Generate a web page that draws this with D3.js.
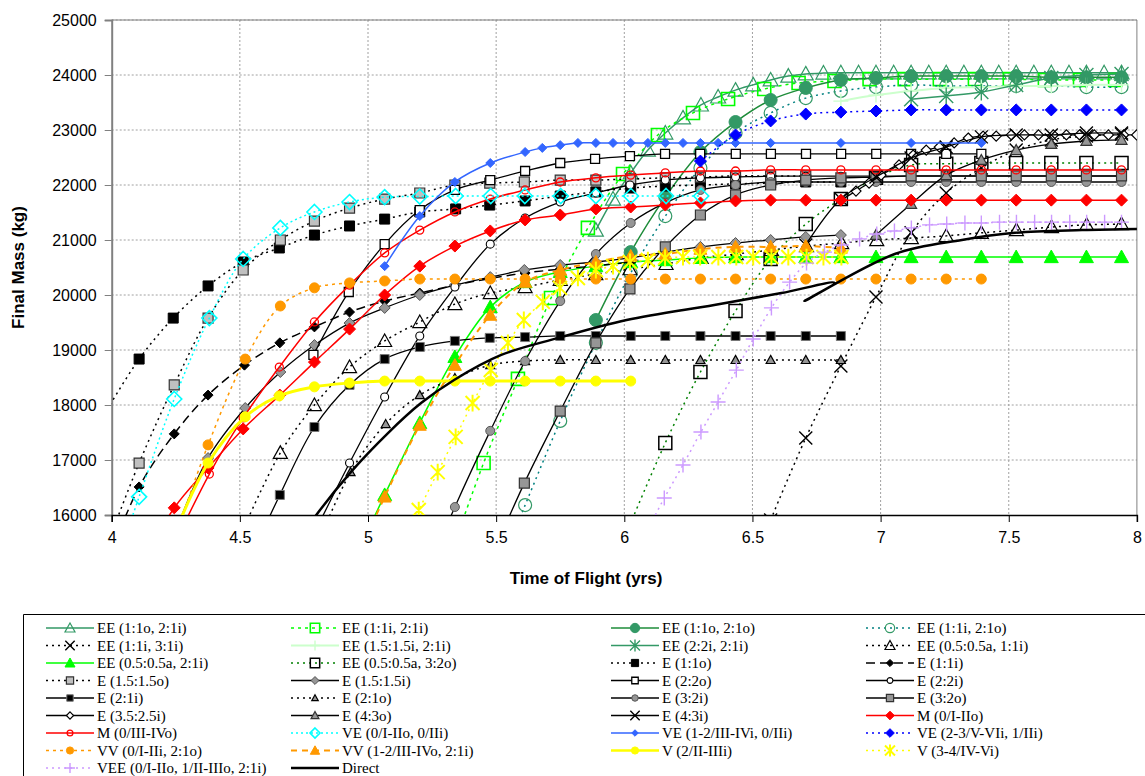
<!DOCTYPE html>
<html><head><meta charset="utf-8">
<script src="https://cdn.jsdelivr.net/npm/d3@7"></script>
<style>body{margin:0;background:#fff;} svg{display:block;font-family:"Liberation Sans",Arial,sans-serif;}</style>
</head><body>
<svg id="chart" width="1145" height="776"></svg>
<script>
// ---------------- DATA (time of flight in years, final mass in kg) ----------------
const xTicks = [4, 4.5, 5, 5.5, 6, 6.5, 7, 7.5, 8];
const yTicks = [16000, 17000, 18000, 19000, 20000, 21000, 22000, 23000, 24000, 25000];

const ee11o21i_t = [5.889,5.956,6.025,6.092,6.160,6.229,6.299,6.366,6.434,6.503,6.571,6.640,6.708,6.777,6.845,6.914,6.982,7.051,7.119,7.188,7.256,7.325,7.393,7.461,7.529,7.598,7.666,7.735,7.803,7.872,7.940];
const ee11o21i_m = [21180,21745,22220,22635,22945,23220,23455,23600,23725,23820,23910,23980,24020,24035,24040,24040,24040,24040,24040,24040,24040,24040,24040,24040,24040,24040,24040,24040,24040,24040,24040];
const ee11i21i_t = [5.315,5.451,5.585,5.714,5.858,5.995,6.131,6.268,6.405,6.546,6.680,6.820,6.957,7.094,7.231,7.368,7.504,7.641,7.778,7.915];
const ee11i21i_m = [15180,16945,18475,19945,21220,22200,22910,23310,23565,23745,23855,23890,23925,23925,23925,23925,23925,23910,23910,23910];
const ee11o21o_t = [5.889,6.025,6.160,6.297,6.434,6.571,6.708,6.845,6.982,7.119,7.256,7.393,7.529,7.666,7.803,7.940];
const ee11o21o_m = [19545,20780,21780,22600,23145,23545,23765,23910,23945,23980,23980,23980,23980,23960,23960,23960];
const ee11i21o_t = [5.477,5.613,5.750,5.889,6.025,6.160,6.297,6.434,6.571,6.708,6.845,6.982,7.119,7.256,7.393,7.529,7.666,7.803,7.940];
const ee11i21o_m = [14635,16180,17710,19130,20400,21435,22310,22945,23310,23580,23710,23780,23820,23800,23800,23800,23800,23780,23780];
const ee11i31i_t = [6.571,6.708,6.845,6.982,7.119,7.256,7.393,7.529,7.666,7.803,7.940];
const ee11i31i_m = [15910,17400,18710,19965,21130,21855,22310,22635,22820,22890,22925];
const ee15i21i_t = [6.845,6.982,7.119,7.256,7.393,7.529,7.666,7.803,7.940];
const ee15i21i_m = [23525,23635,23710,23765,23780,23800,23800,23820,23820];
const ee22i21i_t = [7.119,7.256,7.393,7.529,7.666,7.803,7.940];
const ee22i21i_m = [23560,23620,23690,23820,23945,24000,24020];
const ee05a11i_t = [4.521,4.658,4.791,4.928,5.065,5.202,5.339,5.477,5.613,5.750,5.889,6.022,6.163,6.300,6.437,6.574,6.711,6.848,6.985,7.120,7.256,7.393,7.530,7.667,7.804,7.940];
const ee05a11i_m = [15820,17130,18000,18690,19165,19510,19835,20035,20145,20275,20380,20470,20565,20675,20745,20820,20890,20945,21000,21035,21075,21130,21180,21235,21275,21290];
const ee05a21i_t = [4.928,5.065,5.202,5.339,5.477,5.613,5.750,5.889,6.025,6.160,6.297,6.434,6.571,6.708,6.845,6.982,7.119,7.256,7.393,7.529,7.666,7.803,7.940];
const ee05a21i_m = [15000,16365,17675,18875,19780,20235,20420,20525,20600,20635,20675,20690,20690,20690,20690,20690,20690,20690,20690,20690,20690,20690,20690];
const ee05a32o_t = [6.022,6.160,6.297,6.434,6.571,6.708,6.845,6.982,7.119,7.256,7.393,7.529,7.666,7.803,7.940];
const ee05a32o_m = [15820,17310,18600,19710,20655,21290,21745,22130,22365,22385,22400,22400,22400,22400,22400];
const e11o_t = [3.970,4.107,4.240,4.376,4.513,4.654,4.791,4.928,5.065,5.202,5.342,5.475,5.613,5.750,5.889,6.025,6.160,6.297,6.434,6.571,6.708,6.845];
const e11o_m = [17820,18835,19580,20165,20600,20855,21090,21255,21380,21510,21565,21635,21710,21800,21875,21945,21980,22000,22020,22035,22055,22055];
const e11i_t = [3.970,4.107,4.244,4.376,4.518,4.656,4.791,4.928,5.065,5.202,5.339,5.477,5.613,5.750,5.889,6.025];
const e11i_m = [15000,16510,17475,18180,18725,19130,19420,19690,19890,20035,20180,20300,20400,20470,20530,20600];
const e15o_t = [3.970,4.107,4.244,4.376,4.513,4.658,4.791,4.928,5.065,5.202,5.339,5.475,5.610,5.750,5.889,6.025,6.160,6.297,6.434,6.571,6.708];
const e15o_m = [15300,16945,18365,19580,20455,21000,21345,21580,21745,21855,22000,22035,22055,22090,22090,22110,22130,22145,22165,22165,22165];
const e15i_t = [4.244,4.376,4.521,4.658,4.791,4.928,5.065,5.202,5.339,5.477,5.610,5.750,5.889,6.022,6.160,6.297,6.434,6.571,6.708,6.845];
const e15i_m = [15640,17035,17945,18600,19090,19490,19765,20000,20180,20325,20455,20545,20600,20675,20780,20875,20945,21000,21055,21090];
const e22o_t = [4.787,4.925,5.065,5.202,5.339,5.477,5.613,5.750,5.886,6.022,6.159,6.296,6.435,6.572,6.709,6.846,6.983,7.119,7.256,7.393];
const e22o_m = [18910,20055,20925,21545,21910,22090,22255,22400,22475,22525,22565,22565,22565,22565,22565,22565,22565,22565,22565,22565];
const e22i_t = [4.787,4.928,5.065,5.202,5.339,5.477,5.613,5.750,5.889,6.022,6.160,6.297,6.434,6.571,6.708,6.845,6.982,7.119,7.256,7.393,7.529,7.666,7.803,7.940];
const e22i_m = [15640,16945,18145,19255,20145,20925,21400,21690,21855,22000,22090,22130,22145,22160,22160,22160,22160,22160,22160,22160,22160,22160,22160,22160];
const e21i_t = [4.521,4.656,4.791,4.928,5.065,5.202,5.339,5.475,5.613,5.750,5.889,6.025,6.160,6.297,6.434,6.571,6.708,6.845];
const e21i_m = [15000,16365,17600,18365,18835,19055,19165,19220,19235,19255,19255,19255,19255,19255,19255,19255,19255,19255];
const e21o_t = [4.787,4.932,5.069,5.202,5.339,5.477,5.613,5.750,5.889,6.025,6.160,6.297,6.434,6.571,6.708,6.845];
const e21o_m = [15275,16780,17655,18180,18490,18725,18800,18820,18820,18820,18820,18820,18820,18820,18820,18820];
const e32i_t = [5.202,5.339,5.477,5.613,5.750,5.889,6.025,6.160,6.297,6.434,6.571,6.708,6.845,6.982,7.119,7.256,7.393,7.529,7.666,7.803,7.940];
const e32i_m = [14635,16145,17530,18800,19890,20745,21310,21675,21910,22000,22055,22055,22055,22055,22055,22055,22055,22055,22055,22055,22055];
const e32o_t = [5.477,5.610,5.750,5.889,6.022,6.160,6.297,6.434,6.571,6.708,6.845,6.982,7.119,7.256,7.393,7.529,7.666,7.803,7.940];
const e32o_m = [15180,16580,17890,19130,20110,20875,21455,21820,22000,22090,22130,22145,22165,22165,22165,22165,22165,22165,22165];
const e3525i_t = [6.845,6.904,6.955,7.002,7.072,7.127,7.178,7.229,7.287,7.342,7.400,7.451,7.510,7.561,7.616,7.674,7.725,7.776,7.834,7.889,7.948,7.999];
const e3525i_m = [21725,21890,22035,22180,22365,22545,22635,22690,22765,22855,22890,22890,22910,22910,22910,22910,22910,22910,22910,22910,22910,22910];
const e43o_t = [6.982,7.119,7.256,7.393,7.529,7.666,7.803,7.940];
const e43o_m = [21090,21655,22180,22455,22635,22745,22800,22820];
const e43i_t = [6.708,6.845,6.982,7.119,7.256,7.393,7.529,7.666,7.803,7.940];
const e43i_m = [20910,21745,22145,22490,22690,22875,22910,22910,22945,22945];
const m012o_t = [4.107,4.244,4.376,4.513,4.656,4.791,4.928,5.065,5.202,5.339,5.477,5.613,5.750,5.889,6.025,6.160,6.297,6.434,6.571,6.708,6.845,6.982,7.119,7.256,7.393,7.529,7.666,7.803,7.940];
const m012o_m = [15000,16130,16855,17565,18180,18780,19380,20000,20525,20890,21165,21365,21455,21565,21600,21635,21675,21710,21725,21725,21725,21725,21725,21725,21725,21725,21725,21725,21725];
const m034o_t = [4.244,4.381,4.513,4.654,4.791,4.928,5.065,5.202,5.339,5.477,5.613,5.750,5.889,6.025,6.160,6.297,6.434,6.571,6.708,6.845,6.982,7.119,7.256,7.393,7.529,7.666,7.803,7.940];
const m034o_m = [15455,16745,17765,18690,19510,20180,20765,21180,21510,21745,21910,22055,22130,22180,22220,22255,22255,22275,22275,22275,22275,22275,22275,22275,22275,22275,22275,22275];
const ve0_t = [3.970,4.107,4.244,4.381,4.513,4.658,4.791,4.928,5.065,5.202,5.342,5.479,5.612,5.752,5.889,6.026,6.163,6.300];
const ve0_m = [14450,16330,18110,19580,20655,21220,21510,21690,21780,21790,21800,21800,21800,21800,21800,21800,21800,21800];
const ve12_t = [5.065,5.202,5.339,5.477,5.613,5.680,5.750,5.819,5.889,5.956,6.025,6.092,6.160,6.229,6.297,6.366,6.434,6.571,6.845,7.119,7.393];
const ve12_m = [20525,21435,22055,22400,22600,22675,22725,22765,22765,22765,22765,22765,22765,22765,22765,22765,22765,22765,22765,22765,22765];
const ve23_t = [6.297,6.434,6.571,6.708,6.845,6.982,7.119,7.256,7.393,7.529,7.666,7.803,7.940];
const ve23_m = [22435,22910,23165,23290,23325,23345,23365,23365,23365,23365,23365,23365,23365];
const vv0_t = [4.244,4.376,4.521,4.658,4.791,4.928,5.065,5.202,5.339,5.477,5.613,5.750,5.889,6.025,6.160,6.297,6.434,6.571,6.708,6.845,6.982,7.119,7.256,7.393];
const vv0_m = [15550,17275,18835,19800,20130,20220,20255,20290,20290,20290,20290,20290,20290,20290,20290,20290,20290,20290,20290,20290,20290,20290,20290,20290];
const vv12_t = [4.928,5.065,5.202,5.339,5.477,5.613,5.750,5.889,6.025,6.160,6.297,6.434,6.571,6.708,6.845];
const vv12_m = [14910,16330,17635,18725,19635,20235,20455,20600,20710,20745,20835,20875,20875,20890,20855];
const v2_t = [4.244,4.376,4.521,4.654,4.791,4.928,5.065,5.202,5.339,5.477,5.613,5.750,5.889,6.025];
const v2_m = [15640,16945,17785,18165,18330,18400,18435,18435,18435,18435,18435,18435,18435,18435];
const v34_t = [5.127,5.198,5.272,5.342,5.408,5.479,5.546,5.608,5.682,5.749,5.819,5.889,5.956,6.022,6.092,6.159,6.229,6.296,6.367,6.437,6.503,6.574,6.640,6.711,6.777,6.847];
const v34_m = [15455,16090,16780,17420,18035,18635,19130,19545,19875,20130,20310,20455,20525,20600,20635,20675,20690,20690,20690,20690,20690,20690,20690,20690,20690,20690];
const vee_t = [6.089,6.156,6.229,6.299,6.366,6.437,6.503,6.574,6.645,6.711,6.781,6.847,6.918,6.985,7.054,7.120,7.191,7.258,7.329,7.393,7.464,7.530,7.601,7.667,7.738,7.804,7.874,7.940];
const vee_m = [15710,16310,16910,17510,18055,18635,19200,19765,20235,20580,20780,20910,21020,21110,21165,21220,21275,21290,21310,21310,21325,21325,21325,21325,21325,21325,21325,21325];
const direct_t = [4.737,4.784,4.933,5.078,5.207,5.336,5.520,5.743,6.009,6.351,6.613,6.820,6.703,7.055,7.317,7.524,7.786,8.009];
const direct_m = [15580,15910,16780,17490,18035,18455,18910,19220,19545,19820,20035,20220,19890,20745,21000,21130,21180,21200];

// ---------------- SERIES (legend order) ----------------
const SG = "#339966";
const series = [
 {n:"EE (1:1o, 2:1i)", t:ee11o21i_t, m:ee11o21i_m, c:SG, w:1.5, d:null, mk:"tri", ms:15, mf:"none", mc:SG, mw:1.2},
 {n:"EE (1:1i, 2:1i)", t:ee11i21i_t, m:ee11i21i_m, c:"#00FF00", w:1.5, d:"3,4", mk:"sq", ms:13, mf:"none", mc:"#00FF00", mw:1.6},
 {n:"EE (1:1o, 2:1o)", t:ee11o21o_t, m:ee11o21o_m, c:"#1E8C3A", w:1.5, d:null, mk:"circ", ms:13, mf:SG, mc:SG, mw:1},
 {n:"EE (1:1i, 2:1o)", t:ee11i21o_t, m:ee11i21o_m, c:"#008080", w:1.5, d:"2,4", mk:"circ", ms:13, mf:"none", mc:SG, mw:1.2},
 {n:"EE (1:1i, 3:1i)", t:ee11i31i_t, m:ee11i31i_m, c:"#000", w:1.5, d:"2,4", mk:"x", ms:13, mf:"none", mc:"#000", mw:1.4},
 {n:"EE (1.5:1.5i, 2:1i)", t:ee15i21i_t, m:ee15i21i_m, c:"#CCFFCC", w:2, d:null, mk:"plus", ms:15, mf:"none", mc:"#CCFFCC", mw:1.4},
 {n:"EE (2:2i, 2:1i)", t:ee22i21i_t, m:ee22i21i_m, c:SG, w:1.5, d:null, mk:"star", ms:14, mf:"none", mc:SG, mw:1.4},
 {n:"EE (0.5:0.5a, 1:1i)", t:ee05a11i_t, m:ee05a11i_m, c:"#000", w:1.5, d:"2,4", mk:"tri", ms:14, mf:"none", mc:"#000", mw:1.2},
 {n:"EE (0.5:0.5a, 2:1i)", t:ee05a21i_t, m:ee05a21i_m, c:"#00FF00", w:1.5, d:null, mk:"tri", ms:14, mf:"#00FF00", mc:"#00FF00", mw:1},
 {n:"EE (0.5:0.5a, 3:2o)", t:ee05a32o_t, m:ee05a32o_m, c:"#008000", w:1.5, d:"2,4", mk:"sq", ms:13, mf:"none", mc:"#000", mw:1.5},
 {n:"E (1:1o)", t:e11o_t, m:e11o_m, c:"#000", w:1.5, d:"2,4", mk:"sq", ms:10, mf:"#000", mc:"#000", mw:1},
 {n:"E (1:1i)", t:e11i_t, m:e11i_m, c:"#000", w:1.5, d:"9,5", mk:"dia", ms:10, mf:"#000", mc:"#000", mw:1},
 {n:"E (1.5:1.5o)", t:e15o_t, m:e15o_m, c:"#000", w:1.5, d:"2,4", mk:"sq", ms:10, mf:"#C0C0C0", mc:"#333", mw:1.2},
 {n:"E (1.5:1.5i)", t:e15i_t, m:e15i_m, c:"#000", w:1.3, d:null, mk:"dia", ms:11, mf:"#969696", mc:"#555", mw:1},
 {n:"E (2:2o)", t:e22o_t, m:e22o_m, c:"#000", w:1.3, d:null, mk:"sq", ms:9, mf:"#fff", mc:"#000", mw:1.3},
 {n:"E (2:2i)", t:e22i_t, m:e22i_m, c:"#000", w:1.3, d:null, mk:"circ", ms:8, mf:"#fff", mc:"#000", mw:1.1},
 {n:"E (2:1i)", t:e21i_t, m:e21i_m, c:"#000", w:1.3, d:null, mk:"sq", ms:9, mf:"#000", mc:"#777", mw:1},
 {n:"E (2:1o)", t:e21o_t, m:e21o_m, c:"#000", w:1.5, d:"2,4", mk:"tri", ms:9, mf:"#969696", mc:"#000", mw:1.2},
 {n:"E (3:2i)", t:e32i_t, m:e32i_m, c:"#000", w:1.3, d:null, mk:"circ", ms:9, mf:"#969696", mc:"#555", mw:1},
 {n:"E (3:2o)", t:e32o_t, m:e32o_m, c:"#000", w:1.3, d:null, mk:"sq", ms:10, mf:"#969696", mc:"#333", mw:1.2},
 {n:"E (3.5:2.5i)", t:e3525i_t, m:e3525i_m, c:"#000", w:1.3, d:null, mk:"dia", ms:10, mf:"#fff", mc:"#000", mw:1.2},
 {n:"E (4:3o)", t:e43o_t, m:e43o_m, c:"#000", w:1.3, d:null, mk:"tri", ms:11, mf:"#969696", mc:"#333", mw:1.2},
 {n:"E (4:3i)", t:e43i_t, m:e43i_m, c:"#000", w:1.3, d:null, mk:"x", ms:13, mf:"none", mc:"#000", mw:1.4},
 {n:"M (0/I-IIo)", t:m012o_t, m:m012o_m, c:"#FF0000", w:1.5, d:null, mk:"dia", ms:12, mf:"#FF0000", mc:"#FF0000", mw:1},
 {n:"M (0/III-IVo)", t:m034o_t, m:m034o_m, c:"#FF0000", w:1.5, d:null, mk:"circ", ms:8, mf:"none", mc:"#FF0000", mw:1.3},
 {n:"VE (0/I-IIo, 0/IIi)", t:ve0_t, m:ve0_m, c:"#00FFFF", w:1.5, d:"2,3", mk:"dia", ms:15, mf:"none", mc:"#00FFFF", mw:1.6},
 {n:"VE (1-2/III-IVi, 0/IIi)", t:ve12_t, m:ve12_m, c:"#3366FF", w:1.5, d:null, mk:"dia", ms:9, mf:"#3366FF", mc:"#3366FF", mw:1},
 {n:"VE (2-3/V-VIi, 1/IIi)", t:ve23_t, m:ve23_m, c:"#0000FF", w:1.5, d:"2,4", mk:"dia", ms:12, mf:"#0000FF", mc:"#0000FF", mw:1},
 {n:"VV (0/I-IIi, 2:1o)", t:vv0_t, m:vv0_m, c:"#FF9900", w:1.5, d:"3,4", mk:"circ", ms:10, mf:"#FF9900", mc:"#FF9900", mw:1},
 {n:"VV (1-2/III-IVo, 2:1i)", t:vv12_t, m:vv12_m, c:"#FF9900", w:2, d:"6,5", mk:"tri", ms:13, mf:"#FF9900", mc:"#FF9900", mw:1},
 {n:"V (2/II-IIIi)", t:v2_t, m:v2_m, c:"#FFFF00", w:3, d:null, mk:"circ", ms:10, mf:"#FFFF00", mc:"#FFFF00", mw:1},
 {n:"V (3-4/IV-Vi)", t:v34_t, m:v34_m, c:"#FFFF00", w:1.5, d:"2,4", mk:"star", ms:14, mf:"none", mc:"#FFFF00", mw:2},
 {n:"VEE (0/I-IIo, 1/II-IIIo, 2:1i)", t:vee_t, m:vee_m, c:"#CC99FF", w:1.5, d:"2,4", mk:"plus", ms:15, mf:"none", mc:"#CC99FF", mw:1.4},
 {n:"Direct", t:direct_t, m:direct_m, c:"#000", w:2.5, d:null, mk:null}
];

// ---------------- LAYOUT ----------------
const svg = d3.select("#chart");
const X0 = 111.7, X1 = 1136.9, Y0 = 515, Y1 = 20;
const x = d3.scaleLinear().domain([4, 8]).range([X0, X1]);
const y = d3.scaleLinear().domain([16000, 25000]).range([Y0, Y1]);

svg.append("defs").append("clipPath").attr("id","clip")
  .append("rect").attr("x",X0).attr("y",Y1).attr("width",X1-X0).attr("height",Y0-Y1);

// grid
const grid = svg.append("g");
grid.selectAll("line.h").data(yTicks.slice(1)).join("line")
  .attr("x1",X0).attr("x2",X1).attr("y1",d=>y(d)).attr("y2",d=>y(d))
  .attr("stroke","#a0a0a0").attr("stroke-dasharray","2,2").attr("stroke-width",1);
grid.selectAll("line.v").data(xTicks.slice(1,-1)).join("line")
  .attr("y1",Y1).attr("y2",Y0).attr("x1",d=>x(d)).attr("x2",d=>x(d))
  .attr("stroke","#a0a0a0").attr("stroke-dasharray","2,2").attr("stroke-width",1);
// frame
svg.append("line").attr("x1",X0).attr("x2",X1).attr("y1",Y1).attr("y2",Y1).attr("stroke","#808080");
svg.append("line").attr("x1",X1).attr("x2",X1).attr("y1",Y1).attr("y2",Y0).attr("stroke","#808080");

// axes
const yAxis = d3.axisLeft(y).tickValues(yTicks).tickSize(7).tickPadding(8).tickFormat(d3.format("d"));
const gy = svg.append("g").attr("transform",`translate(${X0},0)`).call(yAxis);
gy.select(".domain").attr("stroke","#808080").attr("stroke-width",2);
gy.selectAll(".tick line").attr("stroke","#808080");
gy.selectAll("text").attr("font-size",16).attr("font-family","Liberation Sans, Arial").attr("fill","#000");

const xAxis = d3.axisBottom(x).tickValues(xTicks).tickSize(7).tickPadding(10).tickFormat(d=>String(d));
const gx = svg.append("g").attr("transform",`translate(0,${Y0})`).call(xAxis);
gx.select(".domain").attr("stroke","#000").attr("stroke-width",1.5);
gx.selectAll(".tick line").attr("stroke","#000");
gx.selectAll("text").attr("font-size",16).attr("font-family","Liberation Sans, Arial").attr("fill","#000");

svg.append("text").attr("x",586).attr("y",584).attr("text-anchor","middle")
  .attr("font-weight","bold").attr("font-size",17).text("Time of Flight (yrs)");
svg.append("text").attr("transform",`translate(24,${(Y0+Y1)/2}) rotate(-90)`).attr("text-anchor","middle")
  .attr("font-weight","bold").attr("font-size",17).text("Final Mass (kg)");

// marker path
function mpath(type, s){
  const h = s/2;
  switch(type){
    case "tri": return `M0,${-h}L${h},${h*0.8}L${-h},${h*0.8}Z`;
    case "sq": return `M${-h},${-h}H${h}V${h}H${-h}Z`;
    case "dia": return `M0,${-h}L${h},0L0,${h}L${-h},0Z`;
    case "circ": return d3.arc()({innerRadius:0,outerRadius:h,startAngle:0,endAngle:2*Math.PI});
    case "x": return `M${-h},${-h}L${h},${h}M${-h},${h}L${h},${-h}`;
    case "plus": return `M${-h},0H${h}M0,${-h}V${h}`;
    case "star": return `M${-h},${-h}L${h},${h}M${-h},${h}L${h},${-h}M0,${-h*1.2}V${h*1.2}`;
  }
}

const line = d3.line().x(d=>x(d[0])).y(d=>y(d[1])).curve(d3.curveCatmullRom.alpha(0.5));
const plot = svg.append("g").attr("clip-path","url(#clip)");
series.forEach(s=>{
  const pts = s.t.map((t,i)=>[t, s.m[i]]);
  const g = plot.append("g");
  g.append("path").attr("d", line(pts)).attr("fill","none").attr("stroke",s.c)
    .attr("stroke-width",s.w).attr("stroke-dasharray",s.d);
  if (s.mk){
    g.selectAll("path.mk").data(pts).join("path").attr("class","mk")
      .attr("transform",d=>`translate(${x(d[0])},${y(d[1])})`)
      .attr("d", mpath(s.mk, s.ms)).attr("fill",s.mf).attr("stroke",s.mc).attr("stroke-width",s.mw);
  }
});

// legend
svg.append("path").attr("d","M1145,614.5H23.5V776").attr("fill","none").attr("stroke","#000").attr("stroke-width",1);
const colL = [46, 291, 611, 866], colW = 48;
const rowY = [628, 645.5, 663, 680.5, 698, 715.5, 733, 750.5, 768];
const lg = svg.append("g");
series.forEach((s,i)=>{
  const cx = colL[i%4], cy = rowY[Math.floor(i/4)];
  lg.append("line").attr("x1",cx).attr("x2",cx+colW).attr("y1",cy).attr("y2",cy)
    .attr("stroke",s.c).attr("stroke-width",Math.min(s.w,2.5)).attr("stroke-dasharray",s.d);
  if (s.mk){
    lg.append("path").attr("transform",`translate(${cx+colW/2},${cy})`)
      .attr("d", mpath(s.mk, Math.min(s.ms*0.72,10))).attr("fill",s.mf).attr("stroke",s.mc).attr("stroke-width",s.mw);
  }
  lg.append("text").attr("x",cx+colW+3).attr("y",cy).attr("dy","0.35em")
    .attr("font-family","Liberation Serif, Times New Roman, serif").attr("font-size",15).text(s.n);
});
</script>
</body></html>
